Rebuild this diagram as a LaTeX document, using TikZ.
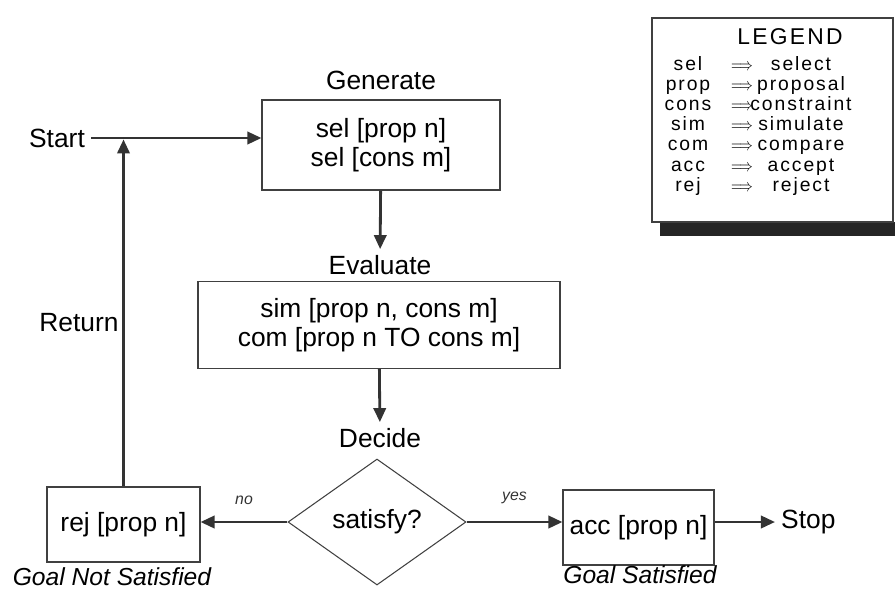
\documentclass[tikz,border=0pt]{standalone}
\usepackage{fontspec}
\setmainfont{Liberation Sans}
\newfontfamily\legfont{Liberation Sans}[LetterSpace=10]
\usetikzlibrary{arrows.meta,shapes.geometric,calc}
\tikzstyle{stepbox}=[rectangle,draw=black!75,line width=0.6pt,inner sep=0pt,align=center,font=\fontsize{15}{16.5}\selectfont]
\tikzstyle{decision}=[diamond,draw=black!75,line width=0.6pt,inner sep=0pt,font=\fontsize{15}{18}\selectfont]
\tikzstyle{label}=[font=\fontsize{15}{18}\selectfont]
\tikzstyle{goal}=[font=\fontsize{14}{17}\selectfont\itshape]
\tikzstyle{answer}=[font=\fontsize{9}{11}\selectfont\itshape]
\tikzstyle{legtext}=[font=\legfont\fontsize{11}{13}\selectfont,inner sep=0pt,anchor=base]
\tikzstyle{flow} = [draw,line width=1.6pt,black!80,-{Triangle[length=8pt,width=7pt]}]

\begin{document}
\begin{tikzpicture}[x=1cm,y=1cm]
    \useasboundingbox (0,0) rectangle (17.9,-11.8);

    % main steps
    \node[label] (start) at (1.14,-2.76) {Start};
    \node[stepbox,minimum width=4.76cm,minimum height=1.8cm] (gen) at (7.62,-2.9) {sel [prop n]\\sel [cons m]};
    \node[label] (genlab) at (7.62,-1.6) {Generate};
    \node[label] (evallab) at (7.6,-5.3) {Evaluate};
    \node[stepbox,minimum width=7.24cm,minimum height=1.74cm] (eval) at (7.58,-6.5) {sim [prop n, cons m]\\com [prop n TO cons m]};
    \node[label] (declab) at (7.6,-8.76) {Decide};
    \node[decision,minimum width=3.56cm,minimum height=2.52cm] (dec) at (7.54,-10.44) {satisfy?};
    \node[stepbox,minimum width=3.06cm,minimum height=1.5cm] (rej) at (2.47,-10.49) {rej [prop n]};
    \node[stepbox,minimum width=3.02cm,minimum height=1.5cm] (acc) at (12.77,-10.55) {acc [prop n]};
    \node[label,anchor=west] (stop) at (15.5,-10.44) {Stop};
    \node[label] (ret) at (1.58,-6.46) {Return};
    \node[goal] (notsat) at (2.24,-11.54) {Goal Not Satisfied};
    \node[goal] (sat) at (12.8,-11.5) {Goal Satisfied};

    % connections
    \coordinate (join) at (rej.north |- start);
    \path[flow] (start.east) -- (start.east -| gen.west);
    \path[flow] (gen) -- (evallab);
    \path[flow] (eval) -- (declab);
    \path[flow] (dec.west) -- node[answer,above=6pt] {no} (dec.west -| rej.east);
    \path[flow] (dec.east) -- node[answer,above=6pt] {yes} (dec.east -| acc.west);
    \path[flow] (acc.east |- stop) -- (stop);
    \path[flow,shorten >=0.8pt] (rej) -- (join);

    % legend
    \fill[black!85] (13.2,-4.44) rectangle (17.9,-4.72);
    \node[rectangle,draw=black!75,line width=0.6pt,fill=white,minimum width=4.82cm,minimum height=4.08cm] (legend) at (15.45,-2.4) {};
    \node[legtext,font=\legfont\fontsize{13}{15}\selectfont] (legtitle) at (15.8,-0.88) {LEGEND};
    \foreach \short/\long [count=\i] in {sel/select, prop/proposal, cons/constraint, sim/simulate, com/compare, acc/accept, rej/reject}
    {
        \node[legtext] (abbr\i) at (13.76,-1.40-0.404*\i+0.404) {\short};
        \node[legtext] (arr\i) at (14.84,-1.40-0.404*\i+0.404) {\scalebox{0.7}[0.9]{$\Longrightarrow$}};
        \node[legtext] (full\i) at (16.02,-1.40-0.404*\i+0.404) {\long};
    }
\end{tikzpicture}
\end{document}
